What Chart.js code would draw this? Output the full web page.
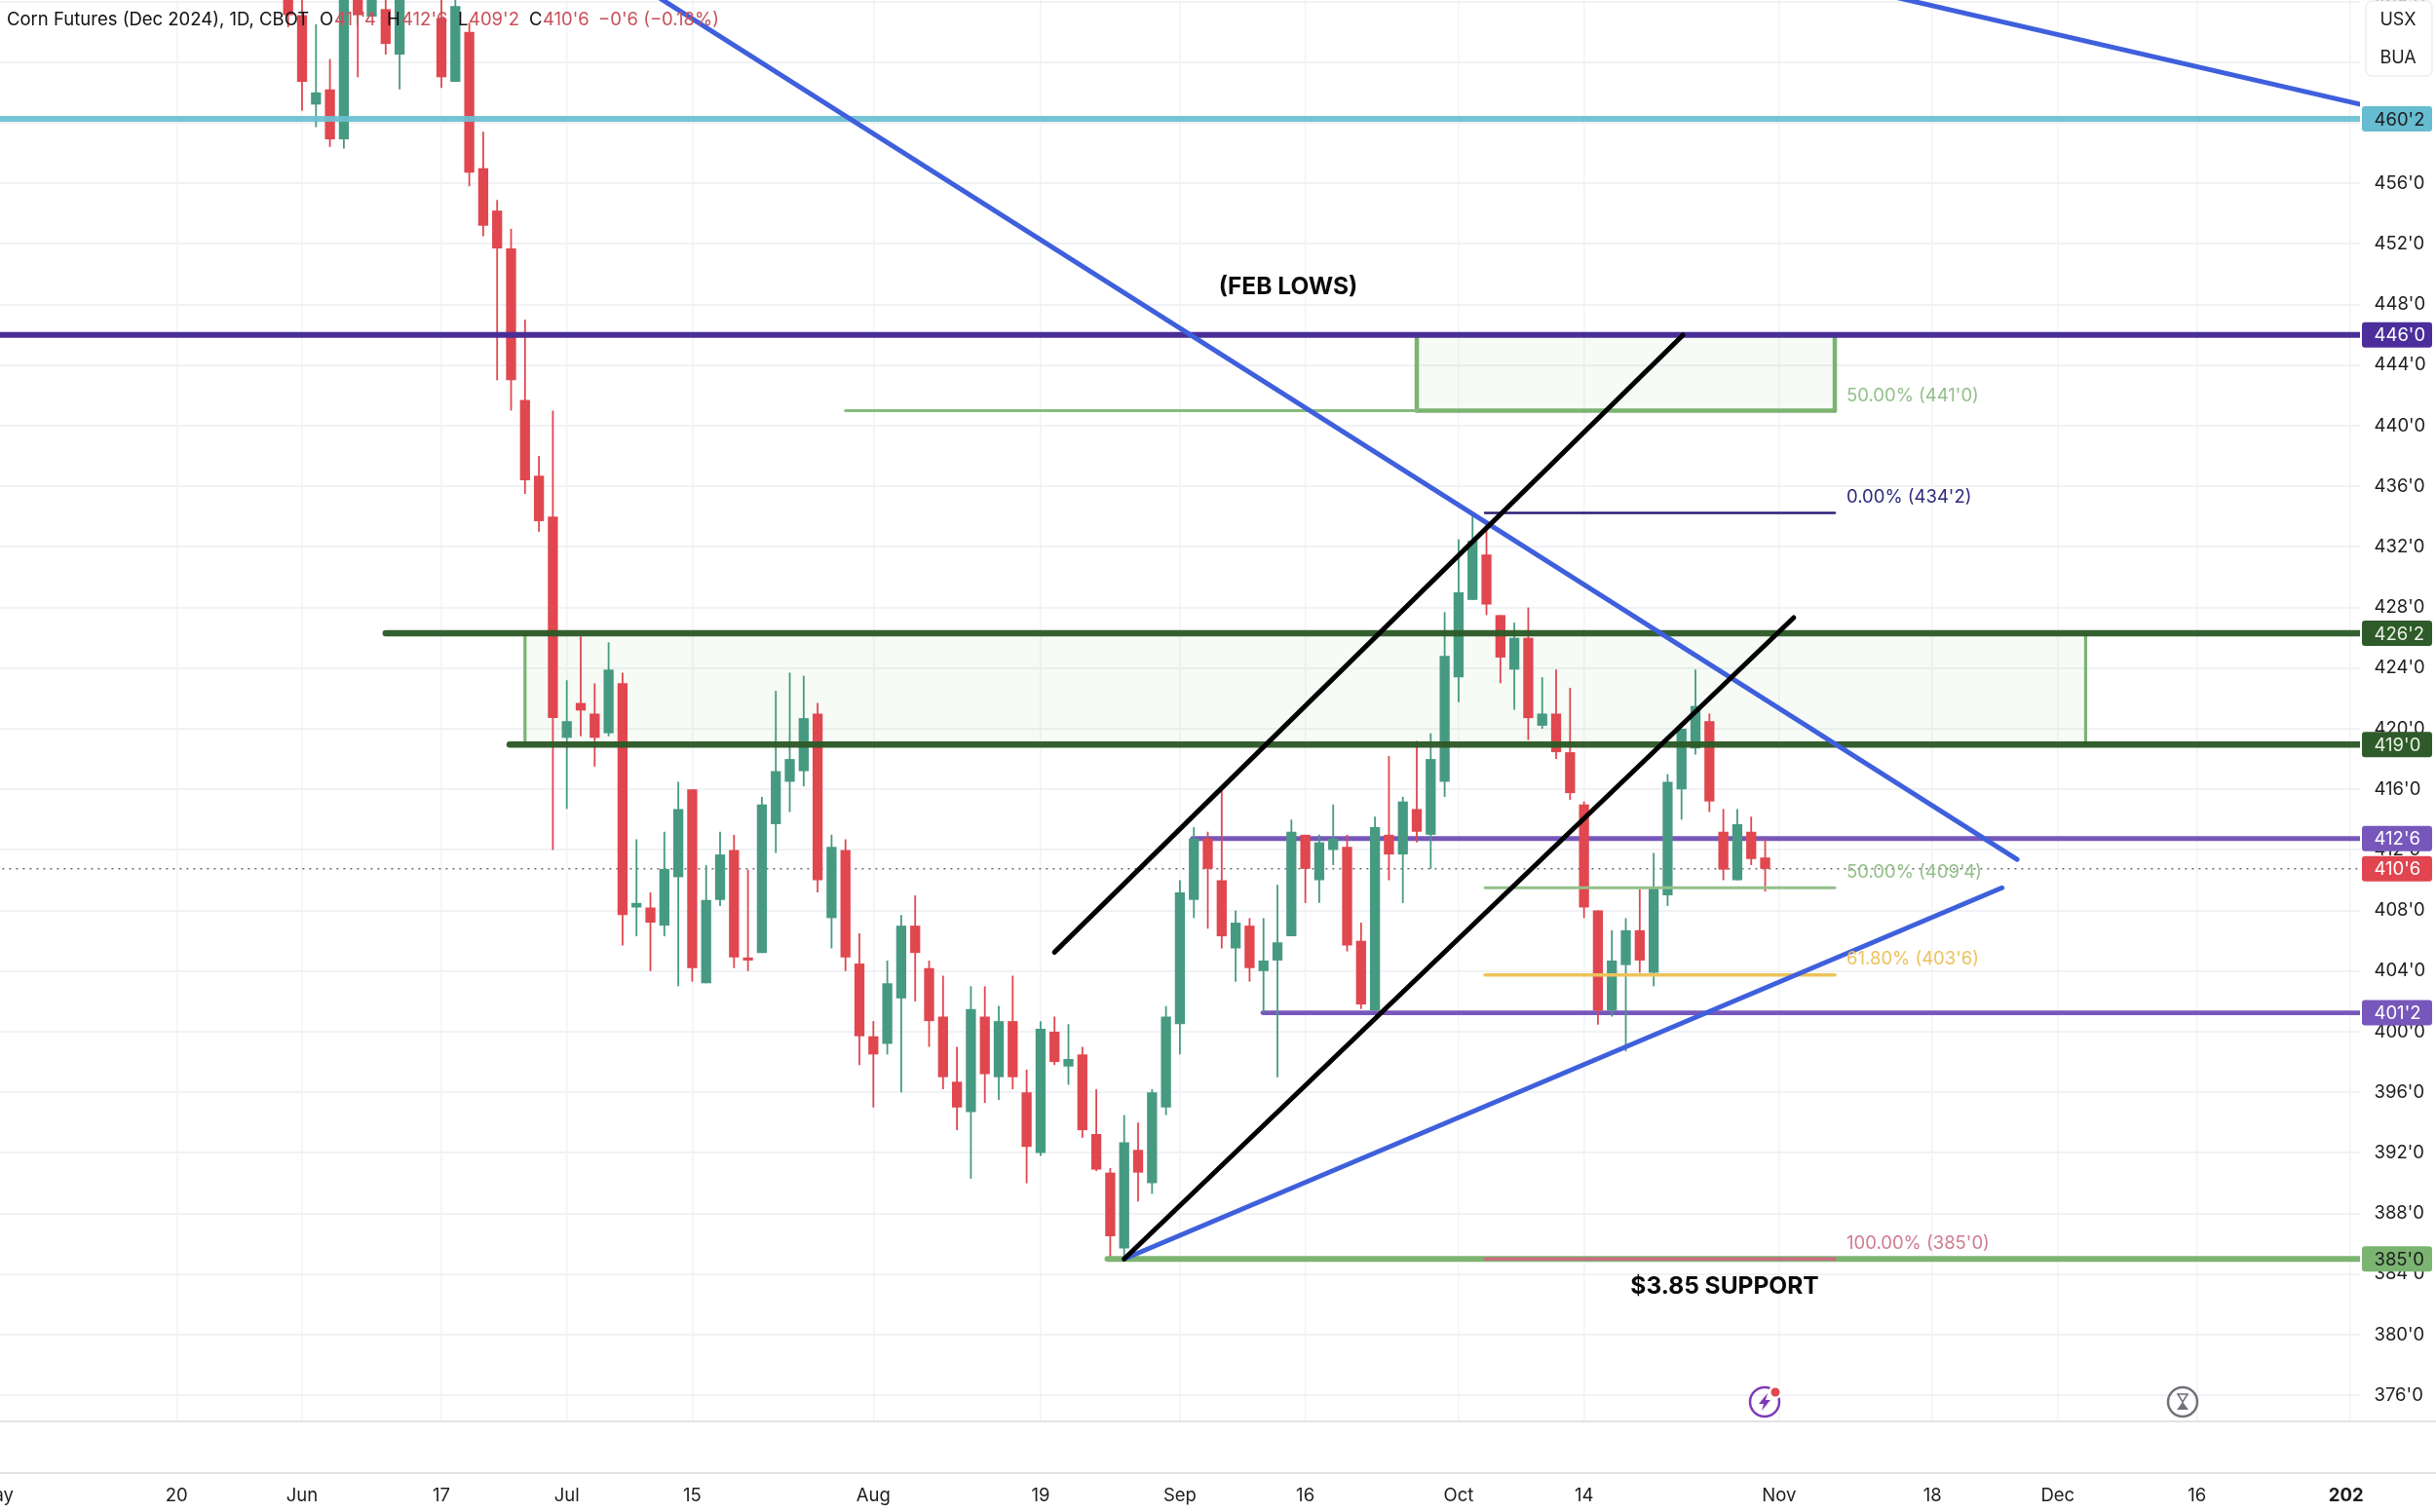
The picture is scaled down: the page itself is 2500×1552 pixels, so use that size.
<!DOCTYPE html>
<html>
<head>
<meta charset="utf-8">
<title>Corn Futures (Dec 2024)</title>
<script src="https://cdn.jsdelivr.net/npm/chart.js@4/dist/chart.umd.min.js"></script>
<style>
    html, body { margin: 0; padding: 0; background: #fff; }
    canvas { display: block; }
</style>
</head>
<body>
<canvas id="grafico" width="2500" height="1552"></canvas>
<script>
// bar index = trading days counted from May 1 2024; bars 30 and 31 sit above the visible range
var firstBar = 21;
var opens = [470, 467.1, 461.2, 462.2, 458.9, 470, 467, 467.5, 464.5, null, null, 466.9, 462.7, 466, 457, 454.2, 451.7, 441.7, 436.7, 434,
    419.4, 421.7, 421, 419.7, 423, 408.2, 408.2, 407, 410.2, 416, 403.2, 408.7, 412, 404.9, 405.2, 413.7, 416.5, 417.2, 421, 407.5, 412, 404.5,
    399.7, 399.2, 402.2, 407, 404.2, 401, 396.7, 394.7, 401, 397, 400.7, 396, 392, 400, 397.7, 398.5, 393.25, 390.7, 385.7, 392.2, 390, 395, 400.5,
    408.7, 412.75, 410, 405.5, 407, 404, 404.7, 406.3, 413, 410, 412, 412.2, 406, 401.4, 413, 411.7, 414.7, 413, 416.5, 423.4, 428.5, 431.5, 427.5,
    423.9, 426, 420.2, 421, 418.45, 415, 408, 401.4, 404.4, 406.7, 403.9, 409, 416, 418.7, 420.5, 413.2, 410, 413.2, 411.5];
var closes = [467.1, 462.7, 462, 458.9, 470, 467.1, 470, 465.2, 470, null, null, 463, 467.7, 456.7, 453.2, 451.7, 443, 436.4, 433.7, 420.7,
    420.5, 421.2, 419.4, 423.9, 407.7, 408.5, 407.2, 410.75, 414.7, 404.2, 408.7, 411.7, 404.9, 404.7, 415, 417.2, 418, 420.7, 410, 412.2, 404.9, 399.7,
    398.5, 403.2, 407, 405.2, 400.7, 397, 395, 401.5, 397.2, 400.7, 397, 392.4, 400.2, 398, 398.2, 393.5, 390.9, 386.5, 392.7, 390.7, 396, 401, 409.2,
    412.75, 410.75, 406.3, 407.2, 404.2, 404.7, 405.9, 413.2, 410.75, 412.5, 412.75, 405.7, 401.8, 413.5, 411.7, 415.2, 413.2, 418, 424.8, 429, 432.4, 428.2, 424.7,
    426, 420.7, 421, 418.45, 415.75, 408.2, 401.4, 404.7, 406.7, 404.7, 409.5, 416.5, 420, 421.5, 415.2, 410.7, 413.7, 411.4, 410.75];
var highs = [471, 469, 466.5, 464.2, 471, 471, 471, 469, 471, null, null, 469, 469, 466.6, 459.4, 454.9, 453, 447, 438, 441,
    423.2, 426.1, 423, 425.7, 423.7, 412.7, 409.2, 413.2, 416.5, 416, 411, 413.2, 413, 410.7, 415.5, 422.5, 423.7, 423.5, 421.7, 413, 412.7, 406.5,
    400.7, 404.7, 407.7, 409, 404.7, 403.7, 399, 403, 403, 401.7, 403.7, 397.5, 400.7, 401, 400.5, 399, 396.2, 391, 394.5, 394, 396.2, 401.7, 410,
    413.5, 413.2, 416, 408, 407.5, 407.5, 409.7, 414, 413, 413, 415, 413, 407.2, 414.2, 418.2, 415.5, 419.2, 419.7, 427.7, 432.5, 434.25, 433.7, 427.5,
    427, 428, 423.4, 423.9, 422.7, 415.2, 408, 406.7, 407.5, 409.4, 411.8, 417, 420, 423.9, 421, 414.7, 414.7, 414.2, 412.75];
var lows = [466.3, 460.8, 459.7, 458.4, 458.3, 463, 467, 464.5, 462.2, null, null, 462.3, 462.7, 455.8, 452.5, 443, 441, 435.5, 433, 412,
    414.7, 419.5, 417.5, 419.5, 405.7, 406.3, 404, 406.3, 403, 403.3, 403.2, 408.3, 404.2, 404, 405.2, 411.8, 414.5, 416.2, 409.2, 405.5, 404, 397.8,
    395, 398.5, 396, 402, 399, 396.2, 393.5, 390.3, 395.3, 395.5, 396.2, 390, 391.8, 397.8, 396.5, 393, 390.8, 385.15, 385, 388.8, 389.3, 394.5, 398.5,
    407.5, 406.8, 405.5, 403.3, 403.3, 401.25, 397, 406.3, 408.5, 408.5, 411, 405.3, 401.5, 401.4, 410, 408.5, 412.5, 410.75, 415.5, 421.75, 428.5, 427.5, 423,
    421.25, 419.25, 420, 418, 415.3, 407.5, 400.46, 401, 398.7, 403.9, 403, 408.3, 414, 418.3, 414.5, 410, 410, 411, 409.25];

var tickBars = [0, 13, 22, 32, 41, 50, 63, 75, 85, 94, 105, 114, 128, 139, 148, 158, 169];
var tickDates = ['May', '20', 'Jun', '17', 'Jul', '15', 'Aug', '19', 'Sep', '16', 'Oct', '14', 'Nov', '18', 'Dec', '16', '202\u00a0\u00a0'];
var priceTicks = [376, 380, 384, 388, 392, 396, 400, 404, 408, 412, 416, 420, 424, 428, 432, 436, 440, 444, 448, 452, 456, 460, 464, 468];

var lastPrice = 410.75;
var feb = { top: 446, fifty: 441, from: 102, to: 132 };
var zone = { top: 426.3, bottom: 418.95, from: 38, to: 150 };
var fibFrom = 106.9;
var fibTo = 132;
var fibPrices = [434.25, 409.5, 403.75, 385];
var fibNames = ["0.00% (434'2)", "50.00% (409'4)", "61.80% (403'6)", "100.00% (385'0)"];

var tagPrices = [460.25, 446, 426.3, 418.95, 412.75, 410.75, 401.25, 385];
var tagTexts = ["460'2", "446'0", "426'2", "419'0", "412'6", "410'6", "401'2", "385'0"];
var tagColors = ['#66bcd1', '#4b2d9b', '#2f5a29', '#2f5a29', '#7757bb', '#e04550', '#7757bb', '#7bb471'];
var tagInks = ['#1d1d1f', '#fff', '#e8f2e4', '#e8f2e4', '#fff', '#fff', '#fff', '#1d1d1f'];

var UP = '#479a82';
var DOWN = '#e0474f';
var HEADER_RED = '#c9505a';
var FONT = 'Inter, "Liberation Sans", sans-serif';

function candleRows(top, bottom) {
    var rows = [];
    for (var k = 0; k < opens.length; k++) {
        if (opens[k] === null)
            continue;
        rows.push({ x: firstBar + k, y: [top[k], bottom[k]] });
    }
    return rows;
}

function candleColors() {
    var colors = [];
    for (var k = 0; k < opens.length; k++) {
        if (opens[k] === null)
            continue;
        colors.push(closes[k] >= opens[k] ? UP : DOWN);
    }
    return colors;
}

function segment(x1, y1, x2, y2, color, width, order) {
    return {
        type: 'line',
        data: [{ x: x1, y: y1 }, { x: x2, y: y2 }],
        borderColor: color,
        borderWidth: width,
        borderCapStyle: 'round',
        pointRadius: 0,
        tension: 0,
        fill: false,
        order: order
    };
}

function shadedBox(x1, x2, top, bottom, color) {
    return {
        type: 'line',
        data: [{ x: x1, y: top }, { x: x2, y: top }],
        borderWidth: 0,
        pointRadius: 0,
        backgroundColor: color,
        fill: { value: bottom },
        order: 30
    };
}

var datasets = [
    shadedBox(zone.from, zone.to, zone.top, zone.bottom, 'rgba(76, 175, 80, 0.05)'),
    shadedBox(feb.from, feb.to, feb.top, feb.fifty, 'rgba(76, 175, 80, 0.05)'),
    segment(0, lastPrice, 170, lastPrice, '#6d6d70', 1.5, 25),
    {
        label: 'wicks',
        data: candleRows(lows, highs),
        backgroundColor: candleColors(),
        maxBarThickness: 1.8,
        grouped: false,
        order: 12
    },
    {
        label: 'bodies',
        data: candleRows(opens, closes),
        backgroundColor: candleColors(),
        maxBarThickness: 11,
        grouped: false,
        order: 11
    },
    segment(85.9, 412.75, 170, 412.75, '#7757bb', 4.8, 15),
    segment(90.95, 401.25, 170, 401.25, '#7757bb', 4.8, 15),
    segment(zone.from, zone.top, zone.from, zone.bottom, '#7bb471', 3.2, 14),
    segment(zone.to, zone.top, zone.to, zone.bottom, '#7bb471', 3.2, 14),
    segment(28, zone.top, 170, zone.top, 'rgba(45, 90, 39, 0.97)', 6.5, 6),
    segment(36.9, zone.bottom, 170, zone.bottom, 'rgba(45, 90, 39, 0.97)', 6.5, 6),
    segment(0, 460.25, 170, 460.25, 'rgba(107, 191, 210, 0.93)', 6, 6),
    segment(0, 446, 170, 446, '#4a2e97', 6, 6),
    segment(79.8, 385, 170, 385, '#7bb471', 6, 7),
    segment(61, feb.fifty, feb.from, feb.fifty, '#86bb7c', 3, 6),
    segment(feb.from, feb.top, feb.from, feb.fifty, '#7bb471', 4.5, 6),
    segment(feb.to, feb.top, feb.to, feb.fifty, '#7bb471', 4.5, 6),
    segment(feb.from, feb.top, feb.to, feb.top, '#7bb471', 4.5, 6),
    segment(feb.from, feb.fifty, feb.to, feb.fifty, '#7bb471', 4.5, 6),
    segment(fibFrom, fibPrices[0], fibTo, fibPrices[0], '#2a2078', 2.5, 5),
    segment(fibFrom, fibPrices[1], fibTo, fibPrices[1], '#93c08a', 3, 5),
    segment(fibFrom, fibPrices[2], fibTo, fibPrices[2], '#ecc35c', 3.5, 5),
    segment(fibFrom, fibPrices[3], fibTo, fibPrices[3], '#c96d80', 3.5, 5),
    segment(46.27, 469.04, 145.08, 411.38, '#3f60dc', 5, 3),
    segment(135.8, 468.4, 170, 461.15, '#3f60dc', 5, 3),
    segment(81, 385, 144, 409.5, '#3f60dc', 5, 3),
    segment(81, 385, 129.05, 427.33, '#000', 5, 2),
    segment(76, 405.25, 121.1, 445.98, '#000', 5, 2)
];
datasets[2].borderDash = [2, 5];
datasets[2].borderCapStyle = 'butt';

function drawIcons(ctx, x, y) {
    ctx.save();
    ctx.lineWidth = 2.5;
    ctx.strokeStyle = '#7e3bb5';
    ctx.beginPath();
    ctx.arc(x, y, 15, 0, Math.PI * 2);
    ctx.stroke();
    ctx.fillStyle = '#7e3bb5';
    ctx.beginPath();
    ctx.moveTo(x + 3, y - 9);
    ctx.lineTo(x - 6, y + 2);
    ctx.lineTo(x - 1, y + 2);
    ctx.lineTo(x - 3, y + 9);
    ctx.lineTo(x + 6, y - 2);
    ctx.lineTo(x + 1, y - 2);
    ctx.closePath();
    ctx.fill();
    ctx.fillStyle = '#fff';
    ctx.beginPath();
    ctx.arc(x + 11, y - 10, 7, 0, Math.PI * 2);
    ctx.fill();
    ctx.fillStyle = '#e0474f';
    ctx.beginPath();
    ctx.arc(x + 11, y - 10, 4.5, 0, Math.PI * 2);
    ctx.fill();

    var gx = 2240;
    ctx.strokeStyle = '#6f7278';
    ctx.beginPath();
    ctx.arc(gx, y, 15, 0, Math.PI * 2);
    ctx.stroke();
    ctx.fillStyle = '#6f7278';
    ctx.lineWidth = 1.5;
    ctx.beginPath();
    ctx.moveTo(gx - 5, y - 8);
    ctx.lineTo(gx + 5, y - 8);
    ctx.lineTo(gx, y);
    ctx.closePath();
    ctx.stroke();
    ctx.beginPath();
    ctx.moveTo(gx, y);
    ctx.lineTo(gx + 6, y + 8);
    ctx.lineTo(gx - 6, y + 8);
    ctx.closePath();
    ctx.fill();
    ctx.restore();
}

function drawHeader(ctx) {
    var parts = [
        ['Corn Futures (Dec 2024), 1D, CBOT', 7, '#111'],
        ['O', 328, '#111'], ["411'4", 343, HEADER_RED],
        ['H', 397, '#111'], ["412'6", 412, HEADER_RED],
        ['L', 470, '#111'], ["409'2", 481, HEADER_RED],
        ['C', 543, '#111'], ["410'6", 557, HEADER_RED],
        ["\u22120'6 (\u22120.18%)", 614, HEADER_RED]
    ];
    ctx.font = '18.5px ' + FONT;
    ctx.textBaseline = 'middle';
    ctx.textAlign = 'left';
    parts.forEach(function (p) {
        ctx.fillStyle = p[2];
        ctx.fillText(p[0], p[1], 20.5);
    });
}

var overlay = {
    id: 'overlay',
    afterDraw: function (chart) {
        var ctx = chart.ctx;
        var xs = chart.scales.x;
        var ys = chart.scales.y;
        var right = chart.chartArea.right;

        ctx.save();
        // pane separators
        ctx.strokeStyle = '#e2e3e6';
        ctx.lineWidth = 2;
        [1459, 1512].forEach(function (y) {
            ctx.beginPath();
            ctx.moveTo(0, y);
            ctx.lineTo(2500, y);
            ctx.stroke();
        });

        drawHeader(ctx);

        // drawing labels
        ctx.font = 'bold 24.5px ' + FONT;
        ctx.fillStyle = '#0a0a0a';
        ctx.textAlign = 'center';
        ctx.textBaseline = 'middle';
        ctx.fillText('(FEB LOWS)', 1322, 295);
        ctx.fillText('$3.85 SUPPORT', 1770, 1321);

        // fib labels
        var labelX = xs.getPixelForValue(fibTo) + 12;
        var fibInks = ['#2f2a7c', '#93c08a', '#ecc35c', '#cf7c92'];
        ctx.font = '18.5px ' + FONT;
        ctx.textAlign = 'left';
        fibPrices.forEach(function (p, k) {
            ctx.fillStyle = fibInks[k];
            ctx.fillText(fibNames[k], labelX, ys.getPixelForValue(p) - 16);
        });
        ctx.fillStyle = '#93c08a';
        ctx.fillText("50.00% (441'0)", labelX, ys.getPixelForValue(feb.fifty) - 15);

        drawIcons(ctx, 1811, 1439);

        // USX / BUA box
        ctx.fillStyle = '#fff';
        ctx.strokeStyle = '#eeeef0';
        ctx.lineWidth = 1.5;
        ctx.beginPath();
        ctx.roundRect(2428, 1, 68, 77, 6);
        ctx.fill();
        ctx.stroke();
        ctx.fillStyle = '#1d1d1f';
        ctx.font = '18px ' + FONT;
        ctx.textAlign = 'center';
        ctx.fillText('USX', 2461, 21);
        ctx.fillText('BUA', 2461, 60);

        // price tags
        ctx.font = '18.5px ' + FONT;
        ctx.textAlign = 'left';
        tagPrices.forEach(function (p, k) {
            var y = ys.getPixelForValue(p);
            ctx.fillStyle = tagColors[k];
            ctx.beginPath();
            ctx.roundRect(right + 2, y - 13, 72, 26, 3);
            ctx.fill();
            ctx.fillStyle = tagInks[k];
            ctx.fillText(tagTexts[k], right + 14.5, y + 1);
        });
        ctx.restore();
    }
};

new Chart(document.getElementById('grafico').getContext('2d'), {
    type: 'bar',
    data: { datasets: datasets },
    plugins: [overlay],
    options: {
        responsive: false,
        animation: false,
        devicePixelRatio: 1,
        layout: { padding: 0 },
        scales: {
            x: {
                type: 'linear',
                offset: false,
                min: 0.322,
                max: 169.69,
                afterBuildTicks: function (scale) {
                    scale.ticks = tickBars.map(function (v) { return { value: v }; });
                },
                afterFit: function (scale) {
                    scale.height = 93;
                    scale.paddingLeft = 0;
                    scale.paddingRight = 0;
                },
                grid: { color: '#f2f3f6', lineWidth: 1.5, drawTicks: false, offset: false },
                border: { display: false },
                ticks: {
                    autoSkip: false,
                    maxRotation: 0,
                    padding: 65,
                    color: '#1d1d1f',
                    font: function (c) {
                        return {
                            size: 18.5,
                            family: FONT,
                            weight: c.tick && c.tick.value === 169 ? 'bold' : 'normal'
                        };
                    },
                    callback: function (v) {
                        return tickDates[tickBars.indexOf(v)];
                    }
                }
            },
            y: {
                position: 'right',
                min: 374.28,
                max: 468.1,
                afterBuildTicks: function (scale) {
                    scale.ticks = priceTicks.map(function (v) { return { value: v }; });
                },
                afterFit: function (scale) {
                    scale.width = 78;
                    scale.paddingTop = 0;
                    scale.paddingBottom = 0;
                },
                grid: { color: '#f1f2f5', lineWidth: 2, drawTicks: false },
                border: { display: false },
                ticks: {
                    padding: 14.5,
                    color: '#1d1d1f',
                    font: { size: 18.5, family: FONT },
                    callback: function (v) { return v + "'0"; }
                }
            }
        },
        plugins: {
            legend: { display: false },
            title: { display: false },
            tooltip: { enabled: false }
        }
    }
});
</script>
</body>
</html>
